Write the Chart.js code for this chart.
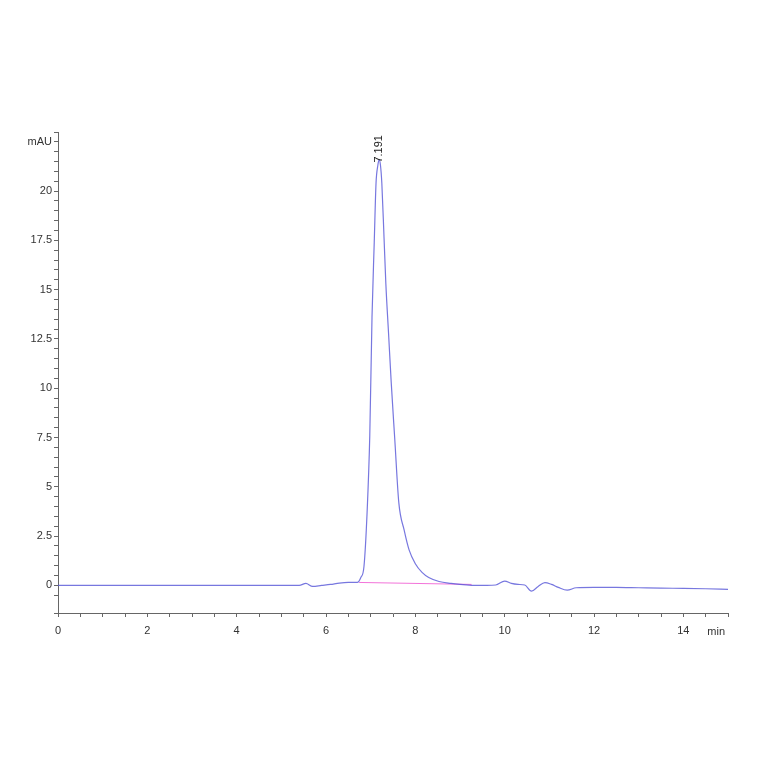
<!DOCTYPE html>
<html>
<head>
<meta charset="utf-8">
<script src="https://cdn.jsdelivr.net/npm/chart.js@4.4.1/dist/chart.umd.min.js"></script>
<style>
  html, body { margin: 0; padding: 0; background: #fff; }
  #wrap { width: 764px; height: 764px; }
</style>
</head>
<body>
<div id="wrap"><canvas id="chart" width="764" height="764"></canvas></div>
<script>
// retention time (min) and detector signal (mAU)
const times = [0, 1, 2, 3, 4, 5, 5.4, 5.55, 5.7, 5.9, 6.1, 6.3, 6.5, 6.7, 6.78,
  6.85, 6.92, 6.98, 7.03, 7.08, 7.12, 7.16, 7.19, 7.22, 7.25, 7.30, 7.34, 7.40,
  7.46, 7.54, 7.63, 7.75, 7.86, 8.0, 8.15, 8.3, 8.53, 8.8, 9.0, 9.3, 9.6, 9.8,
  10.0, 10.15, 10.3, 10.45, 10.6, 10.75, 10.9, 11.05, 11.2, 11.4, 11.6, 12.0,
  12.5, 13.0, 13.5, 14.0, 14.5, 15.0];
const signal = [0, 0, 0, 0, 0, 0, 0, 0.1, -0.05, 0, 0.05, 0.12, 0.15, 0.15, 0.4,
  0.96, 3.7, 7.6, 13.6, 17.4, 20.4, 21.3, 21.6, 21.3, 20.4, 17.6, 15.3, 12.8,
  10.3, 7.4, 4.2, 2.8, 1.8, 1.1, 0.66, 0.4, 0.2, 0.1, 0.05, 0.0, 0.0, 0.02,
  0.22, 0.1, 0.05, 0.02, -0.29, -0.05, 0.14, 0.05, -0.1, -0.24, -0.12, -0.1,
  -0.1, -0.12, -0.14, -0.15, -0.17, -0.2];

// integration baseline under the main peak
const baseTimes = [6.74, 9.26];
const baseSignal = [0.15, 0.05];

// peak annotation
const peakTimes = [7.191];
const peakLabels = ['7.191'];

// labelled ticks
const xTickLabels = [0, 2, 4, 6, 8, 10, 12, 14];
const yTickLabels = [0, 2.5, 5, 7.5, 10, 12.5, 15, 17.5, 20];
const xUnit = 'min';
const yUnit = 'mAU';
const yUnitAt = 22.5;

const FONT = '"Liberation Sans", Arial, sans-serif';
const AXIS = '#666';
const TEXT = '#333';

const near = (a, b) => Math.abs(a - b) < 1e-6;

const annotate = {
  id: 'annotate',
  afterDatasetsDraw(chart) {
    const { ctx, scales: { x, y }, chartArea } = chart;
    ctx.save();
    ctx.font = '11px ' + FONT;
    ctx.fillStyle = '#222';
    peakTimes.forEach((t, i) => {
      const px = x.getPixelForValue(t);
      const py = y.getPixelForValue(Math.max(...signal));
      ctx.save();
      ctx.translate(px, py + 3);
      ctx.rotate(-Math.PI / 2);
      ctx.textAlign = 'left';
      ctx.textBaseline = 'middle';
      ctx.fillText(peakLabels[i], 0, 0);
      ctx.restore();
    });
    ctx.fillStyle = TEXT;
    ctx.textAlign = 'right';
    ctx.textBaseline = 'top';
    ctx.fillText(xUnit, chartArea.right - 3, chartArea.bottom + 13);
    ctx.restore();
  }
};

new Chart(document.getElementById('chart').getContext('2d'), {
  type: 'line',
  data: {
    datasets: [
      {
        data: times.map((t, i) => ({ x: t, y: signal[i] })),
        borderColor: 'rgba(85, 85, 215, 0.8)',
        borderWidth: 1.2,
        pointRadius: 0,
        cubicInterpolationMode: 'monotone',
      },
      {
        data: baseTimes.map((t, i) => ({ x: t, y: baseSignal[i] })),
        borderColor: 'rgba(240, 90, 210, 0.85)',
        borderWidth: 1,
        pointRadius: 0,
      },
    ],
  },
  plugins: [annotate],
  options: {
    responsive: false,
    animation: false,
    events: [],
    layout: { padding: { top: 132, right: 36, bottom: 111, left: 0 } },
    plugins: { legend: { display: false }, tooltip: { enabled: false } },
    scales: {
      x: {
        type: 'linear',
        min: 0,
        max: 15,
        afterFit: (s) => { s.height = 40; },
        border: { display: true, color: AXIS, width: 1 },
        grid: { drawOnChartArea: false, tickLength: 4, color: AXIS },
        ticks: {
          stepSize: 0.5,
          autoSkip: false,
          maxRotation: 0,
          padding: 7,
          color: TEXT,
          font: { family: FONT, size: 11 },
          callback: (v) => (xTickLabels.some((t) => near(t, v)) ? String(v) : ''),
        },
      },
      y: {
        type: 'linear',
        min: -1.4,
        max: 23,
        afterFit: (s) => { s.width = 58; },
        border: { display: true, color: AXIS, width: 1 },
        grid: { drawOnChartArea: false, tickLength: 4, color: AXIS },
        ticks: {
          stepSize: 0.5,
          autoSkip: false,
          padding: 2,
          color: TEXT,
          font: { family: FONT, size: 11 },
          callback: (v) => {
            if (near(v, yUnitAt)) return yUnit;
            return yTickLabels.some((t) => near(t, v)) ? String(v) : '';
          },
        },
      },
    },
  },
});
</script>
</body>
</html>
